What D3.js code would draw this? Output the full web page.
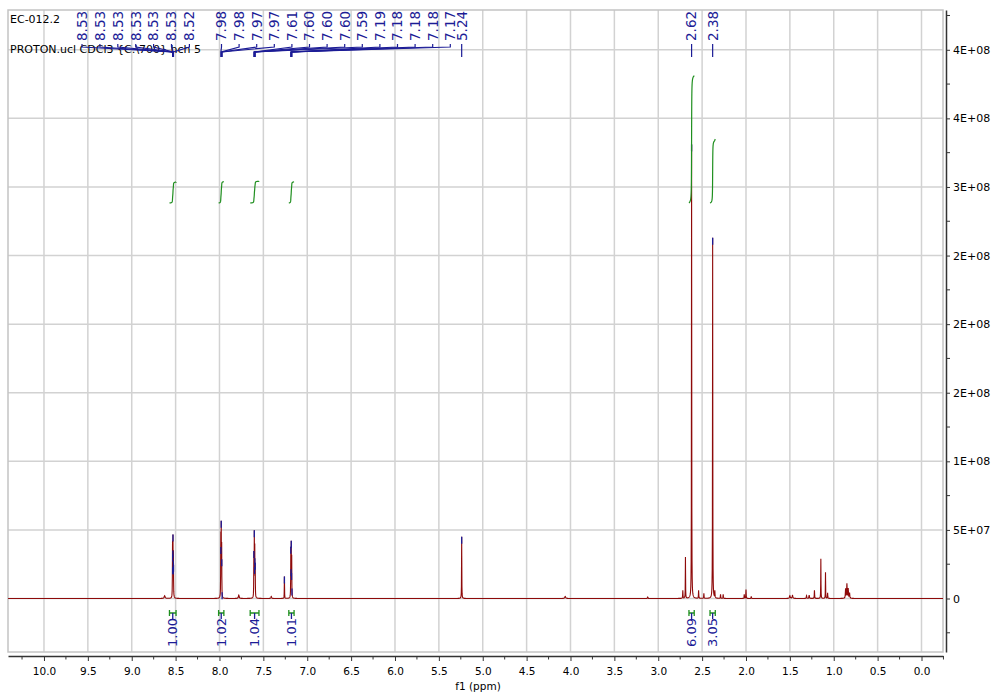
<!DOCTYPE html>
<html><head><meta charset="utf-8">
<script src="https://cdn.jsdelivr.net/npm/d3@7"></script>
<style>
body{margin:0;background:#fff;}
svg{display:block;font-family:"DejaVu Sans",Verdana,sans-serif;}
</style>
</head><body>
<svg id="chart" width="993" height="692"></svg>
<script>
// ---------------- DATA ----------------
const titleLine1 = "EC-012.2";
const titleLine2 = "PROTON.ucl CDCl3 {C:\\700} hch 5";
const xAxisTitle = "f1 (ppm)";

const xTickValues = [10.0,9.5,9.0,8.5,8.0,7.5,7.0,6.5,6.0,5.5,5.0,4.5,4.0,3.5,3.0,2.5,2.0,1.5,1.0,0.5,0.0];
const xTickLabels = ["10.0","9.5","9.0","8.5","8.0","7.5","7.0","6.5","6.0","5.5","5.0","4.5","4.0","3.5","3.0","2.5","2.0","1.5","1.0","0.5","0.0"];
const yTickValues = [0,5e7,1e8,1.5e8,2e8,2.5e8,3e8,3.5e8,4e8];
const yTickLabels = ["0","5E+07","1E+08","2E+08","2E+08","2E+08","3E+08","4E+08","4E+08"];

// spectrum lines: position (ppm), height (intensity), half width (ppm)
const peakPpm    = [8.625, 8.535, 8.530, 8.525, 7.985, 7.980, 7.975, 7.78, 7.608, 7.603, 7.598, 7.593, 7.41, 7.26, 7.187, 7.182, 7.177, 5.24, 4.06, 3.12, 2.72, 2.69, 2.62, 2.54, 2.48, 2.38, 2.355, 2.29, 2.26, 2.02, 2.00, 1.94, 1.50, 1.47, 1.31, 1.28, 1.22, 1.147, 1.094, 1.07, 0.865, 0.850, 0.835, 0.82];
const peakHeight = [2.0e6, 38e6, 41e6, 31e6, 44e6, 50e6, 36e6, 2.5e6, 30e6, 44e6, 34e6, 22e6, 1.5e6, 16e6, 34e6, 37e6, 28e6, 45e6, 1.5e6, 1.0e6, 5.8e6, 30e6, 331e6, 5.8e6, 3.6e6, 263e6, 5e6, 3e6, 3e6, 3e6, 6.5e6, 1.5e6, 2e6, 2.2e6, 2e6, 2.5e6, 6e6, 29e6, 19e6, 4e6, 7e6, 10.5e6, 7e6, 4e6];
const peakWidth  = [0.006, 0.0015, 0.0015, 0.0015, 0.0015, 0.0015, 0.0015, 0.005, 0.0015, 0.0015, 0.0015, 0.0015, 0.004, 0.0015, 0.0015, 0.0015, 0.0015, 0.0015, 0.006, 0.003, 0.002, 0.0015, 0.0015, 0.002, 0.002, 0.0015, 0.002, 0.002, 0.002, 0.002, 0.002, 0.002, 0.005, 0.005, 0.003, 0.003, 0.002, 0.0015, 0.0015, 0.002, 0.003, 0.003, 0.003, 0.003];

// peak-pick labels
const peakLabelPpm  = [8.534, 8.533, 8.531, 8.530, 8.528, 8.526, 8.524, 7.984, 7.980, 7.974, 7.970, 7.608, 7.603, 7.600, 7.597, 7.593, 7.187, 7.184, 7.182, 7.179, 7.174, 5.24, 2.62, 2.38];
const peakLabelText = ["8.53","8.53","8.53","8.53","8.53","8.53","8.52","7.98","7.98","7.97","7.97","7.61","7.60","7.60","7.60","7.59","7.19","7.18","7.18","7.18","7.17","5.24","2.62","2.38"];
const extraMarkerPpm = [7.26];

// integrals: region start, region end (ppm), value
const integralFrom  = [8.57, 8.01, 7.65, 7.21, 2.65, 2.41];
const integralTo    = [8.495, 7.95, 7.55, 7.15, 2.59, 2.35];
const integralValue = [1.00, 1.02, 1.04, 1.01, 6.09, 3.05];

// ---------------- LAYOUT ----------------
const frame = {x0: 8, x1: 943, y0: 10, y1: 652};
const svg = d3.select("#chart");
const x = d3.scaleLinear().domain([10.41, -0.245]).range([frame.x0, frame.x1]);
const y = d3.scaleLinear().domain([-3.9e7, 4.29e8]).range([frame.y1, frame.y0]);

const gridColor = "#d2d2d2";
const blue = "#1c1c96";
const green = "#1f8f1f";
const red = "#8e0a0a";

// frame + grid
const grid = svg.append("g");
grid.selectAll("line.v").data(xTickValues).enter().append("line")
  .attr("x1", d => x(d)).attr("x2", d => x(d))
  .attr("y1", frame.y0).attr("y2", frame.y1)
  .attr("stroke", gridColor).attr("stroke-width", 1.5);
grid.selectAll("line.h").data(yTickValues).enter().append("line")
  .attr("x1", frame.x0).attr("x2", frame.x1)
  .attr("y1", d => y(d)).attr("y2", d => y(d))
  .attr("stroke", gridColor).attr("stroke-width", 1.5);
grid.append("rect").attr("x", frame.x0).attr("y", frame.y0)
  .attr("width", frame.x1 - frame.x0).attr("height", frame.y1 - frame.y0)
  .attr("fill", "none").attr("stroke", "#c4c4c4").attr("stroke-width", 1.5);

// clip
svg.append("clipPath").attr("id", "clip").append("rect")
  .attr("x", frame.x0).attr("y", frame.y0)
  .attr("width", frame.x1 - frame.x0).attr("height", frame.y1 - frame.y0);

// titles (drawn under the leader lines)
svg.append("text").attr("x", 10).attr("y", 23).attr("font-size", 11).attr("fill", "#000").text(titleLine1);
svg.append("text").attr("x", 10).attr("y", 53).attr("font-size", 11).attr("fill", "#000").text(titleLine2);

// spectrum
function intensity(p) {
  let s = 0;
  for (let i = 0; i < peakPpm.length; i++) {
    const w = peakWidth[i], d = p - peakPpm[i];
    s += peakHeight[i] * w * w / (w * w + d * d);
  }
  return s;
}
let samples = d3.range(-0.245, 10.41, 0.002).concat(peakPpm, peakLabelPpm);
samples = Array.from(new Set(samples.map(v => +v.toFixed(5)))).sort((a, b) => b - a);
const spec = samples.map(p => [p, intensity(p)]);
const g = svg.append("g").attr("clip-path", "url(#clip)");
g.append("path").datum(spec)
  .attr("d", d3.line().x(d => x(d[0])).y(d => y(d[1])))
  .attr("fill", "none").attr("stroke", red).attr("stroke-width", 1.1);

// peak markers
const markerPpm = peakLabelPpm.concat(extraMarkerPpm);
g.selectAll("line.mk").data(markerPpm).enter().append("line")
  .attr("x1", d => x(d)).attr("x2", d => x(d))
  .attr("y1", d => y(intensity(d))).attr("y2", d => y(intensity(d)) + 7)
  .attr("stroke", blue).attr("stroke-width", 1.3);

// integral curves
const intBaseY = 203, intScale = 20.9;
integralFrom.forEach((a, i) => {
  const b = integralTo[i];
  const pts = d3.range(a, b, -0.0005).concat([b]);
  let cum = 0; const c = [0];
  for (let k = 1; k < pts.length; k++) {
    cum += (intensity(pts[k - 1]) + intensity(pts[k])) / 2;
    c.push(cum);
  }
  const data = pts.map((p, k) => [p, c[k] / cum]);
  g.append("path").datum(data)
    .attr("d", d3.line().x(d => x(d[0])).y(d => intBaseY - d[1] * integralValue[i] * intScale))
    .attr("fill", "none").attr("stroke", green).attr("stroke-width", 1.2);
  // bottom bracket
  const xa = x(a), xb = x(b), cx = (xa + xb) / 2, by = 613;
  svg.append("path").attr("d", `M${xa},${by - 3}V${by + 3}M${xa},${by}H${xb}M${xb},${by - 3}V${by + 3}`)
    .attr("fill", "none").attr("stroke", green).attr("stroke-width", 1.3);
  svg.append("line").attr("x1", cx).attr("x2", cx).attr("y1", by).attr("y2", by + 6)
    .attr("stroke", blue).attr("stroke-width", 1.3);
  svg.append("text").attr("transform", `translate(${cx},647) rotate(-90)`)
    .attr("dy", "0.36em").attr("font-size", 13).attr("fill", blue)
    .text(integralValue[i].toFixed(2));
});

// peak labels (multiplet groups spread out)
const labelGroups = [{n: 7, x0: 82, step: 17.9}, {n: 14, x0: 221.5, step: 17.6}];
const labelX = [];
let idx = 0;
labelGroups.forEach(gp => { for (let k = 0; k < gp.n; k++) labelX[idx++] = gp.x0 + k * gp.step; });
for (; idx < peakLabelPpm.length; idx++) labelX[idx] = x(peakLabelPpm[idx]);
const lab = svg.append("g");
peakLabelPpm.forEach((p, i) => {
  const lx = labelX[i], px = x(p);
  lab.append("text").attr("transform", `translate(${lx},41) rotate(-90)`)
    .attr("dy", "0.36em").attr("font-size", 13.5).attr("fill", blue).text(peakLabelText[i]);
  lab.append("path").attr("d", `M${lx},44V47L${px},52V57`)
    .attr("fill", "none").attr("stroke", blue).attr("stroke-width", 1.2);
});

// x axis
const xAxisG = svg.append("g").attr("transform", "translate(0,656)");
xAxisG.call(d3.axisBottom(x).tickValues(xTickValues).tickFormat((d, i) => xTickLabels[i]).tickSize(5).tickSizeOuter(0).tickPadding(7));
const xMinor = xTickValues.map(v => v + 0.25).concat([xTickValues[xTickValues.length - 1] - 0.25]);
xAxisG.selectAll("line.minor").data(xMinor).enter().append("line")
  .attr("x1", d => x(d)).attr("x2", d => x(d)).attr("y1", 0).attr("y2", 3.5)
  .attr("stroke", "#333");
xAxisG.select(".domain").attr("stroke", "#333").attr("stroke-width", 1.5);
xAxisG.selectAll(".tick line").attr("stroke", "#333");
xAxisG.selectAll("text").attr("font-size", 10.5).attr("fill", "#000").attr("font-family", "DejaVu Sans, Verdana, sans-serif");
svg.append("text").attr("x", 478).attr("y", 690).attr("text-anchor", "middle")
  .attr("font-size", 10.5).attr("fill", "#000").text(xAxisTitle);

// y axis
const yAxisG = svg.append("g").attr("transform", "translate(946,0)");
yAxisG.call(d3.axisRight(y).tickValues(yTickValues).tickFormat((d, i) => yTickLabels[i]).tickSize(4).tickSizeOuter(0).tickPadding(3));
const yMinor = yTickValues.map(v => v + 2.5e7).concat([-2.5e7]);
yAxisG.selectAll("line.minor").data(yMinor).enter().append("line")
  .attr("x1", 0).attr("x2", 4).attr("y1", d => y(d)).attr("y2", d => y(d))
  .attr("stroke", "#333");
yAxisG.select(".domain").attr("stroke", "#333").attr("stroke-width", 1.5);
yAxisG.selectAll(".tick line").attr("stroke", "#333");
yAxisG.selectAll("text").attr("font-size", 11).attr("fill", "#000").attr("font-family", "DejaVu Sans, Verdana, sans-serif");
</script>
</body></html>
